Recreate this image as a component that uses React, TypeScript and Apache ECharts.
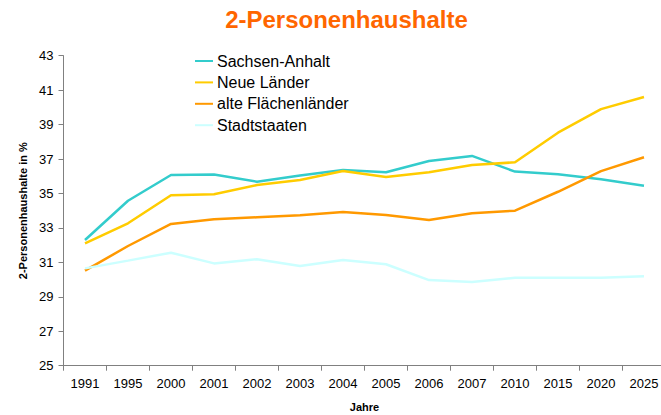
import React, { useEffect, useRef } from "react";
import * as echarts from "echarts";

const categories = ["1991", "1995", "2000", "2001", "2002", "2003", "2004", "2005", "2006", "2007", "2010", "2015", "2020", "2025"];
const sachsenAnhalt = [32.3, 34.58, 36.07, 36.1, 35.68, 36.05, 36.36, 36.23, 36.89, 37.18, 36.27, 36.11, 35.82, 35.45];
const neueLaender = [32.1, 33.27, 34.9, 34.95, 35.49, 35.78, 36.3, 35.96, 36.23, 36.65, 36.81, 38.53, 39.9, 40.6];
const alteFlaechenlaender = [30.52, 31.95, 33.23, 33.5, 33.62, 33.73, 33.92, 33.75, 33.46, 33.85, 34.0, 35.1, 36.3, 37.1];
const stadtstaaten = [30.65, 31.1, 31.56, 30.94, 31.18, 30.79, 31.14, 30.89, 29.97, 29.86, 30.1, 30.1, 30.1, 30.19];

const FONT = "'Liberation Sans', Arial, sans-serif";

export default function App() {
  const ref = useRef<HTMLDivElement>(null);
  useEffect(() => {
    if (!ref.current) return;
    const chart = echarts.init(ref.current, undefined, { renderer: "svg" });
    const mk = (name: string, data: number[], color: string) => ({
      name,
      type: "line",
      data,
      symbol: "none",
      lineStyle: { color, width: 2.5 },
      itemStyle: { color },
    });
    chart.setOption({
      animation: false,
      backgroundColor: "#ffffff",
      textStyle: { fontFamily: FONT },
      title: {
        text: "2-Personenhaushalte",
        left: 346.5,
        top: 7,
        padding: 0,
        textAlign: "center",
        textStyle: { color: "#FF6600", fontSize: 24, fontWeight: "bold", fontFamily: FONT },
      },
      legend: {
        orient: "vertical",
        left: 194,
        top: 53,
        padding: 0,
        itemWidth: 18,
        itemHeight: 14,
        itemGap: 5.4,
        itemStyle: { opacity: 0 },
        textStyle: { fontSize: 16, color: "#000", fontFamily: FONT, padding: [0, 0, 0, -1] },
        data: ["Sachsen-Anhalt", "Neue Länder", "alte Flächenländer", "Stadtstaaten"],
      },
      grid: { left: 63.5, right: -4.5, top: 55.7, bottom: 49.3, containLabel: false, outerBoundsMode: "none" },
      xAxis: {
        type: "category",
        data: categories,
        boundaryGap: true,
        name: "Jahre",
        nameLocation: "middle",
        nameGap: 36,
        nameTextStyle: { fontSize: 11, fontWeight: "bold", color: "#000", fontFamily: FONT },
        axisLine: { lineStyle: { color: "#808080", width: 1 } },
        axisTick: { show: true, length: 5, lineStyle: { color: "#808080" } },
        axisLabel: { fontSize: 13, color: "#000", margin: 11, fontFamily: FONT },
        splitLine: { show: false },
      },
      yAxis: {
        type: "value",
        min: 25,
        max: 43,
        interval: 2,
        name: "2-Personenhaushalte in %",
        nameLocation: "middle",
        nameGap: 31,
        nameRotate: 90,
        nameTextStyle: { fontSize: 11, fontWeight: "bold", color: "#000", fontFamily: FONT },
        axisLine: { show: true, lineStyle: { color: "#808080", width: 1 } },
        axisTick: { show: true, length: 5, lineStyle: { color: "#808080" } },
        axisLabel: { fontSize: 13, color: "#000", margin: 10, fontFamily: FONT },
        splitLine: { show: false },
      },
      series: [
        mk("Sachsen-Anhalt", sachsenAnhalt, "#33CCCC"),
        mk("Neue Länder", neueLaender, "#FFCC00"),
        mk("alte Flächenländer", alteFlaechenlaender, "#FF9900"),
        mk("Stadtstaaten", stadtstaaten, "#CCFFFF"),
      ],
    });
    return () => chart.dispose();
  }, []);
  return <div ref={ref} style={{ width: 661, height: 415, position: "absolute", left: 0, top: 0 }} />;
}
